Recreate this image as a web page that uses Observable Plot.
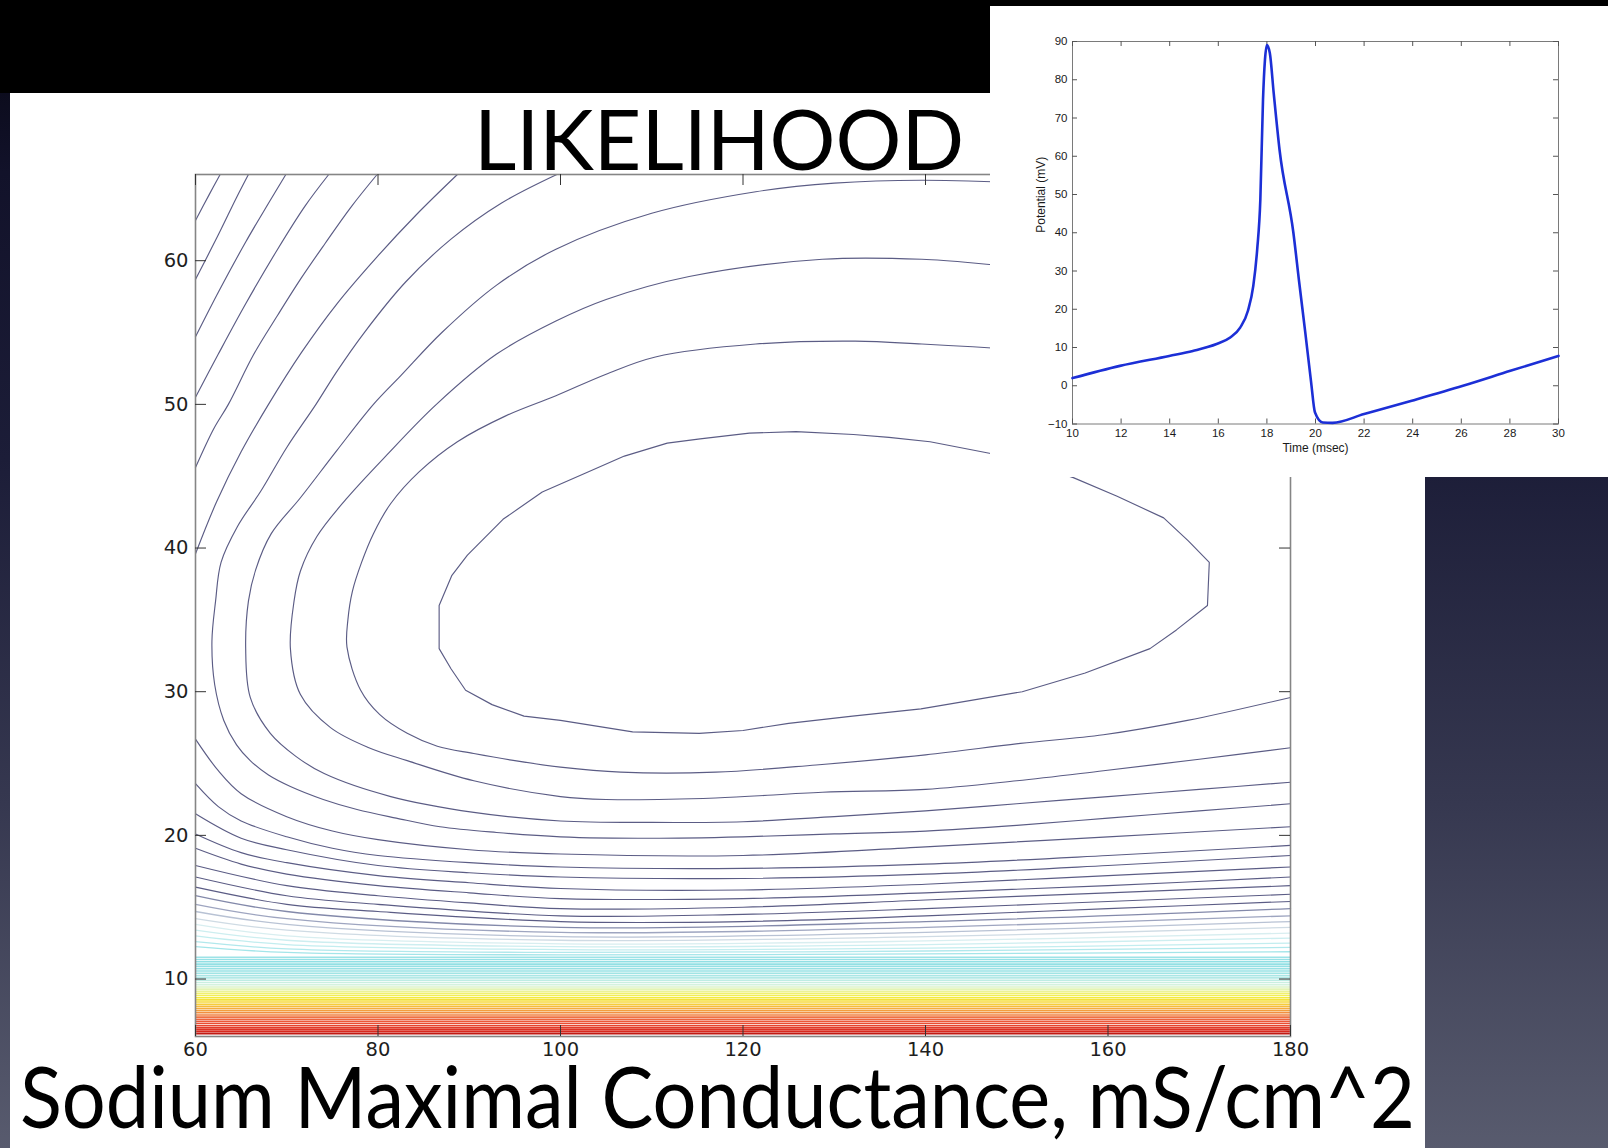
<!DOCTYPE html>
<html>
<head>
<meta charset="utf-8">
<script src="https://cdn.jsdelivr.net/npm/d3@7"></script>
<script src="https://cdn.jsdelivr.net/npm/@observablehq/plot@0.6"></script>
<style>
  html, body { margin: 0; padding: 0; }
  body {
    width: 1608px; height: 1148px; position: relative; overflow: hidden;
    background: linear-gradient(to bottom, #05050f 0%, #12122a 15%, #1c1d38 40%, #363850 70%, #585b6e 100%);
  }
  #topband { position: absolute; left: 0; top: 0; width: 1608px; height: 93px; background: #000; }
  #sheet { position: absolute; left: 10px; top: 93px; width: 1415px; height: 1055px; background: #fff; }
  #contour { position: absolute; left: 120px; top: 150px; width: 1200px; height: 940px; }
  #words { position: absolute; left: 0; top: 0; }
  #inset { position: absolute; left: 990px; top: 6px; width: 618px; height: 471px; background: #fff; }
</style>
</head>
<body>
<div id="topband"></div>
<div id="sheet"></div>
<div id="contour"></div>
<div id="inset"></div>
<script>
// ---------- slide text ----------
const titleText = "LIKELIHOOD";
const xAxisTitle = "Sodium Maximal Conductance, mS/cm^2";

// ---------- contour map: axes ----------
const xTicks = [60, 80, 100, 120, 140, 160, 180];
const yTicks = [10, 20, 30, 40, 50, 60];

// ---------- contour lines ([x, y] points) ----------
const arc01 = [[60,62.8],[61.5,64.6],[62.7,66]];
const arc02 = [[60,58.7],[62.5,61.8],[64.5,64.4],[65.8,66]];
const arc03 = [[60,54.7],[62.5,57.8],[65.5,61.3],[68,64],[69.9,66]];
const arc04 = [[60,50.5],[62.5,53.5],[65.5,57],[69,60.8],[72,63.8],[74.6,66]];
const arc05 = [[60,45.6],[62,48.3],[63.6,50],[66.4,53.5],[69,56.2],[71.6,58.8],[74.2,61.2],[77,63.7],[79.9,66]];
const arc06 = [[60,39.6],[62.3,43.2],[65,46.7],[68,50],[71.6,53.6],[75.5,57],[79.8,60.2],[84.2,63.2],[88.7,66]];
const arc07 = [[99.6,66],[93.5,64],[88,61.5],[83,58.5],[78.5,55],[75.5,52.3],[73.2,50],[70,47],[67.2,44],[64.6,41.5],[62.8,39],[62.2,36.3],[61.8,33.5],[62.1,30.5],[63.1,28],[64.5,26.3],[66,25.2],[68,24.2],[70.4,23.4],[74,22.5],[77.7,21.8],[82,21.2],[86.8,20.6],[93,20.2],[100,19.9],[110,19.8],[120,19.9],[130,20.1],[140,20.3],[150,20.7],[160,21.2],[170,21.7],[180,22.2]];
const arc08 = [[180,62.5],[165,64.6],[150,65.4],[139.6,65.6],[130,65.4],[121.4,64.8],[110,63.3],[99.5,60.8],[93,58.3],[87,55],[82.5,52],[79.5,50],[75.5,46.8],[71.5,43.5],[68.3,41],[66.6,38.5],[65.8,36.3],[65.5,33],[66,29.6],[68.2,27.1],[71,25.5],[74.1,24.3],[81.4,22.7],[90.5,21.6],[100,21],[110,20.9],[120,20.95],[130,21.3],[140,21.7],[150,22.2],[160,22.7],[170,23.2],[180,23.7]];
const arc09 = [[180,57.8],[165,59.2],[150,59.6],[139.6,60.1],[128.7,60.1],[114.1,58.9],[105,57.3],[99.5,55.8],[93,53.5],[86.4,50],[81,46.5],[76.5,43.4],[73.3,40.8],[71.5,38.4],[70.8,36.3],[70.4,33],[71.5,29.8],[74.8,27.5],[79,26.1],[83.2,25.2],[90.5,23.8],[100,22.7],[105,22.5],[117,22.6],[128.7,23],[140,23.2],[150,23.8],[159.5,24.5],[170,25.3],[180,26.1]];
const arc10 = [[180,51.5],[165,53],[150,53.8],[139.6,54.2],[132.3,54.4],[121.4,54.2],[110.4,53.3],[105,52.1],[99.5,50.6],[94,49.2],[88.7,47.4],[84.5,45.3],[81.4,43.1],[79.5,41],[78.2,39],[77.2,37],[76.7,35],[76.6,33.1],[78.1,30.1],[80.2,28.4],[83.2,27.1],[86.5,26.2],[90.5,25.7],[95,25.2],[100,24.75],[106.6,24.4],[117,24.4],[128,24.9],[140,25.6],[150.4,26.4],[159.5,27],[168.7,28],[180,29.6]];
const loop11 = [[86.7,36],[88.1,38.1],[89.8,39.5],[93.7,42],[98,43.9],[102.7,45.2],[107,46.4],[111.7,47.3],[115.3,47.6],[120.7,48],[125.8,48.1],[132.1,47.9],[136,47.7],[140.5,47.4],[147,46.6],[151.5,45.9],[156.2,44.9],[161,43.6],[166.1,42.1],[168.8,40.5],[171.1,39],[170.9,36],[167.5,34.3],[164.6,33],[157.5,31.3],[150.6,30],[145,29.4],[139.5,28.8],[132,28.3],[125,27.8],[120,27.3],[115.2,27.1],[107.9,27.2],[100,28],[96,28.3],[92.5,29.1],[89.6,30.1],[88,31.6],[86.7,33],[86.7,36]];
const low12 = [[60,26.7],[62.5,24.5],[65,22.9],[70,21.3],[75,20.3],[80,19.7],[90,19],[100,18.7],[120,18.6],[140,19.2],[160,19.9],[180,20.6]];
const low13 = [[60,23.6],[62.5,22],[65,21],[70,19.9],[75,19.1],[80,18.6],[90,18.1],[100,17.8],[120,17.7],[140,18],[160,18.6],[180,19.3]];
const low14 = [[60,21.5],[65,19.8],[70,19],[80,17.9],[90,17.4],[100,17.1],[120,17],[140,17.3],[160,17.9],[180,18.6]];
const low15 = [[60,20.1],[65,18.8],[70,18.1],[80,17.2],[90,16.7],[100,16.3],[120,16.2],[140,16.6],[160,17.2],[180,17.8]];
const low16 = [[60,19.1],[65,18],[70,17.3],[80,16.5],[90,16],[100,15.6],[120,15.6],[140,16],[160,16.5],[180,17.1]];
const low17 = [[60,17.9],[70,16.5],[80,15.8],[90,15.3],[100,14.9],[120,15],[140,15.5],[160,16],[180,16.5]];
const low18 = [[60,17.1],[70,15.8],[80,15.2],[100,14.4],[120,14.5],[140,14.9],[160,15.4],[180,15.9]];
const low19 = [[60,16.4],[70,15.2],[80,14.7],[100,14],[120,14],[140,14.4],[160,14.9],[180,15.4]];

// fading lines: y at x = 60, 70, 100, 140, 180
const fadeX = [60, 70, 100, 140, 180];
const fadeLines = [
  [15.8, 14.7, 13.6, 14.0, 14.9],
  [15.2, 14.2, 13.25, 13.6, 14.4],
  [14.7, 13.8, 12.95, 13.25, 14.0],
  [14.2, 13.4, 12.7, 12.95, 13.6],
  [13.8, 13.0, 12.45, 12.65, 13.2],
  [13.4, 12.7, 12.25, 12.4, 12.85],
  [13.0, 12.4, 12.05, 12.15, 12.5],
  [12.6, 12.1, 11.85, 11.95, 12.2],
  [12.25, 11.85, 11.68, 11.75, 11.9]
];
// flat coloured levels near the bottom
const flatLevels = [11.52, 11.36, 11.2, 11.04, 10.88, 10.72, 10.56, 10.4, 10.24, 10.08, 9.92, 9.76, 9.6, 9.45, 9.3, 9.15, 9.0, 8.85, 8.7, 8.55, 8.4, 8.25, 8.1, 7.95, 7.8, 7.65, 7.5, 7.35, 7.2, 7.05, 6.9, 6.75, 6.6, 6.46, 6.33, 6.2];

// colour ramp of the contour levels
const rampLevels = [6.15, 6.35, 6.7, 7.05, 7.4, 7.7, 8.0, 8.3, 8.7, 9.0, 9.25, 9.6, 10.0, 10.5, 11.2, 11.7, 12.05, 12.45, 12.7, 12.95, 13.25, 13.6, 14.0];
const rampColors = ["#b81410","#d92a20","#e6402c","#ec5638","#ef7642","#f29440","#f5b23c","#f6d23a","#f4ea3c","#f0f070","#e6f4b0","#d4f2de","#b8eae6","#9ae2e4","#90dfe4","#a4e5e9","#c2edef","#d8eef0","#cfdbe4","#b8c2d4","#9ea5c0","#8389aa","#6b6e94"];

// ---------- inset: action potential ----------
const apTime = [10, 11.95, 13.98, 14.95, 15.93, 16.49, 16.9, 17.22, 17.44, 17.6, 17.73, 17.84, 17.92, 18.0, 18.12, 18.28, 18.52, 19.09, 19.33, 19.58, 19.82, 19.98, 20.3, 20.7, 22.0, 23.96, 26.07, 28.02, 30];
const apVolt = [2.0, 5.2, 7.8, 9.1, 10.9, 12.6, 15.2, 19.6, 26.1, 35.6, 48.7, 74.8, 85.2, 89.1, 87.0, 76.5, 61.7, 40.0, 27.0, 13.9, 0.9, -7.0, -9.6, -9.7, -7.4, -3.9, 0.0, 3.9, 7.8];
const tTicks = [10, 12, 14, 16, 18, 20, 22, 24, 26, 28, 30];
const vTicks = [-10, 0, 10, 20, 30, 40, 50, 60, 70, 80, 90];
const insetXLabel = "Time (msec)";
const insetYLabel = "Potential (mV)";

// ================= build =================
const smoothLines = [arc01, arc02, arc03, arc04, arc05, arc06, arc07, arc08, arc09, arc10, low12, low13, low14, low15, low16, low17, low18, low19];
const smoothRows = smoothLines.flatMap((pts, i) => pts.map(([x, y]) => ({id: i, x, y})));
const loopRows = loop11.map(([x, y]) => ({x, y}));
const fadeRows = fadeLines.flatMap((ys, i) => ys.map((y, j) => ({id: i, x: fadeX[j], y, level: ys[2]})));

const font = "'Liberation Sans', Arial, Helvetica, sans-serif";
const tickFont = "'DejaVu Sans', Verdana, sans-serif";
const darkStroke = "#5b5c85";

const W = 1200, H = 940, mL = 75, mR = 30, mT = 24, mB = 54;
const iW = W - mL - mR, iH = H - mT - mB, tk = 11;

const contour = Plot.plot({
  width: W, height: H, marginLeft: mL, marginRight: mR, marginTop: mT, marginBottom: mB,
  style: {background: "transparent", fontFamily: tickFont, fontSize: "19.5px", color: "#1e1e1e", overflow: "visible"},
  x: {domain: [60, 180], label: null},
  y: {domain: [6, 66], label: null},
  color: {type: "linear", domain: rampLevels, range: rampColors, clamp: true},
  marks: [
    Plot.ruleY(flatLevels, {y: d => d, stroke: d => d, strokeWidth: 1.6}),
    Plot.line(fadeRows, {x: "x", y: "y", z: "id", stroke: "level", strokeWidth: 1.3, curve: "catmull-rom"}),
    Plot.line(smoothRows, {x: "x", y: "y", z: "id", stroke: darkStroke, strokeWidth: 1.15, curve: "catmull-rom"}),
    Plot.line(loopRows, {x: "x", y: "y", stroke: darkStroke, strokeWidth: 1.15}),
    Plot.frame({stroke: "#858585", strokeWidth: 1.6}),
    Plot.tickX(xTicks, {x: d => d, insetTop: iH - tk, stroke: "#333"}),
    Plot.tickX(xTicks, {x: d => d, insetBottom: iH - tk, stroke: "#333"}),
    Plot.tickY(yTicks, {y: d => d, insetRight: iW - tk, stroke: "#333"}),
    Plot.tickY(yTicks, {y: d => d, insetLeft: iW - tk, stroke: "#333"}),
    Plot.axisX(xTicks, {tickSize: 0, tickPadding: 6, label: null}),
    Plot.axisY(yTicks, {tickSize: 0, tickPadding: 7, label: null})
  ]
});
document.getElementById("contour").append(contour);

// slide words
const words = d3.select("body").append("svg").attr("id", "words").attr("width", 1608).attr("height", 1148);
words.append("text").attr("x", 474).attr("y", 170)
  .attr("font-family", "Lato, 'Open Sans', sans-serif").attr("font-size", 84).attr("fill", "#000")
  .attr("textLength", 490).attr("lengthAdjust", "spacingAndGlyphs").text(titleText);
words.append("text").attr("x", 20).attr("y", 1128)
  .attr("font-family", "Lato, 'Open Sans', sans-serif").attr("font-size", 86).attr("fill", "#000")
  .attr("textLength", 1395).attr("lengthAdjust", "spacingAndGlyphs").text(xAxisTitle);

// move the inset to the top of the stack
const insetDiv = document.getElementById("inset");
document.body.appendChild(insetDiv);

const IW = 618, IH = 471, imL = 82, imR = 50, imT = 35, imB = 53.5;
const iiW = IW - imL - imR, iiH = IH - imT - imB, itk = 5;
const apRows = apTime.map((t, i) => ({t, v: apVolt[i]}));

const inset = Plot.plot({
  width: IW, height: IH, marginLeft: imL, marginRight: imR, marginTop: imT, marginBottom: imB,
  style: {background: "#fff", fontFamily: font, fontSize: "11.5px", color: "#1a1a1a"},
  x: {domain: [10, 30], label: null},
  y: {domain: [-10, 90], label: null},
  marks: [
    Plot.frame({stroke: "#7a7a7a", strokeWidth: 1}),
    Plot.tickX(tTicks, {x: d => d, insetTop: iiH - itk, stroke: "#555"}),
    Plot.tickX(tTicks, {x: d => d, insetBottom: iiH - itk, stroke: "#555"}),
    Plot.tickY(vTicks, {y: d => d, insetRight: iiW - itk, stroke: "#555"}),
    Plot.tickY(vTicks, {y: d => d, insetLeft: iiW - itk, stroke: "#555"}),
    Plot.line(apRows, {x: "t", y: "v", stroke: "#1c2fd6", strokeWidth: 2.6, curve: "monotone-x"}),
    Plot.axisX(tTicks, {tickSize: 0, tickPadding: 5, label: null}),
    Plot.axisY(vTicks, {tickSize: 0, tickPadding: 5, label: null}),
    Plot.text([insetXLabel], {text: d => d, frameAnchor: "bottom", dy: 27.5, fontSize: 12}),
    Plot.text([insetYLabel], {text: d => d, frameAnchor: "left", rotate: -90, dx: -31, fontSize: 12})
  ]
});
insetDiv.append(inset);
</script>
</body>
</html>
